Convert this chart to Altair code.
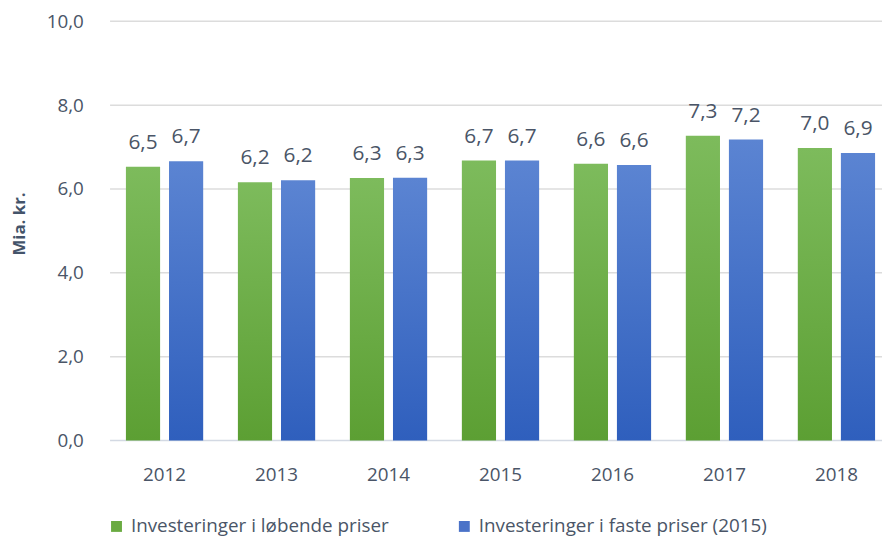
import altair as alt
import pandas as pd

years = ["2012", "2013", "2014", "2015", "2016", "2017", "2018"]
loebende = [6.53, 6.16, 6.26, 6.68, 6.60, 7.27, 6.98]
faste = [6.66, 6.21, 6.27, 6.68, 6.57, 7.18, 6.86]
y_ticks = [0, 2, 4, 6, 8, 10]
s1 = "Investeringer i løbende priser"
s2 = "Investeringer i faste priser (2015)"
series_names = [s1, s2]

df = pd.DataFrame({
    "year": years * 2,
    "series": [s1] * len(years) + [s2] * len(years),
    "value": loebende + faste,
})
grid_df = pd.DataFrame({"value": y_ticks})

FONT = "Open Sans"
TXT = "#4a5567"
W, H = 778, 423

green_grad = alt.Gradient(
    gradient="linear", x1=0, x2=0, y1=0, y2=1,
    stops=[alt.GradientStop(color="#7dbb5c", offset=0),
           alt.GradientStop(color="#5c9f33", offset=1)],
)
blue_grad = alt.Gradient(
    gradient="linear", x1=0, x2=0, y1=0, y2=1,
    stops=[alt.GradientStop(color="#5b84d2", offset=0),
           alt.GradientStop(color="#2f5fbd", offset=1)],
)

x_enc = alt.X(
    "year:N", sort=years,
    scale=alt.Scale(range=[15, 771], paddingInner=0.31, paddingOuter=0),
    axis=alt.Axis(title=None, labelAngle=0, ticks=False, labelPadding=25,
                  labelFontSize=19, labelColor=TXT, labelFont=FONT,
                  domain=False, grid=False),
)
xoff_enc = alt.XOffset("series:N", scale=alt.Scale(domain=series_names, paddingInner=0.207, paddingOuter=0))
y_scale = alt.Scale(domain=[0, 10], nice=False)
y_enc = alt.Y(
    "value:Q", scale=y_scale,
    axis=alt.Axis(values=y_ticks,
                  labelExpr="replace(format(datum.value, '.1f'), '.', ',')",
                  title="Mia. kr.", grid=False,
                  domain=False, ticks=False, labelPadding=28, labelFontSize=19,
                  labelColor=TXT, labelFont=FONT, titleFont=FONT, titleFontSize=17,
                  titleFontWeight="bold", titleColor="#44546a", titleX=-92, titleY=204,
                  titleBaseline="middle", titleAngle=270),
)

grid = alt.Chart(grid_df).mark_rule(strokeWidth=1.5).encode(
    y=alt.Y("value:Q", scale=y_scale),
    x=alt.value(-1), x2=alt.value(W),
    color=alt.condition(alt.datum.value == 0, alt.value("#d3d9e3"), alt.value("#dcdcdc")),
)

base = alt.Chart(df).encode(x=x_enc, xOffset=xoff_enc, y=y_enc)

bars_g = base.transform_filter(alt.datum.series == s1).mark_bar(color=green_grad)
bars_b = base.transform_filter(alt.datum.series == s2).mark_bar(color=blue_grad)

labels = base.transform_calculate(
    label="replace(format(datum.value, '.1f'), '.', ',')"
).mark_text(dy=-18, baseline="alphabetic", fontSize=21, font=FONT, color=TXT).encode(text="label:N")

legend_layer = base.mark_square(opacity=0).encode(
    color=alt.Color(
        "series:N",
        scale=alt.Scale(domain=series_names, range=["#6aab41", "#4a72c8"]),
        legend=alt.Legend(
            title=None, orient="none", legendX=-4, legendY=500, direction="horizontal",
            symbolType="square", symbolSize=121, symbolOpacity=1, symbolStrokeWidth=0,
            labelFontSize=19, labelFont=FONT, labelColor=TXT, labelLimit=500,
            labelOffset=5, columnPadding=66,
        ),
    )
)

chart = alt.layer(grid, bars_g, bars_b, labels, legend_layer).properties(
    width=W, height=H,
    autosize=alt.AutoSizeParams(type="none"),
    padding={"left": 104, "top": 11, "right": 0, "bottom": 98},
).configure_view(stroke=None)

chart.save("out.html", embed_options={"renderer": "svg", "actions": False})
